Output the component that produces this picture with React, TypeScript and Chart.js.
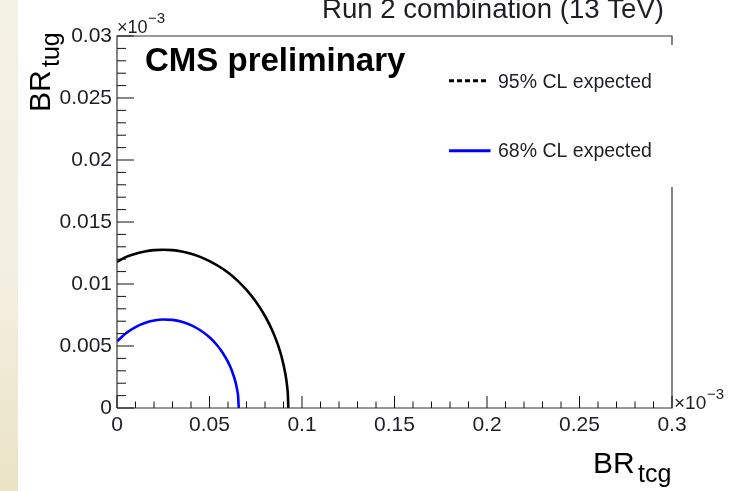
import React, { useEffect, useRef } from "react";
import { Chart, registerables } from "chart.js";

Chart.register(...registerables);

// Axis ticks (values in units of 10^-3)
const X_TICKS = [0, 0.05, 0.1, 0.15, 0.2, 0.25, 0.3];
const X_TICK_LABELS = ["0", "0.05", "0.1", "0.15", "0.2", "0.25", "0.3"];
const Y_TICKS = [0, 0.005, 0.01, 0.015, 0.02, 0.025, 0.03];
const Y_TICK_LABELS = ["0", "0.005", "0.01", "0.015", "0.02", "0.025", "0.03"];

// Expected 95% CL contour (BR_tcg, BR_tug), units of 10^-3
const CL95_X = [0, 0.005, 0.01, 0.015, 0.02, 0.025, 0.03, 0.035, 0.04, 0.045, 0.05, 0.055, 0.06, 0.065, 0.07, 0.075, 0.08, 0.084, 0.087, 0.089, 0.091, 0.092, 0.0924, 0.0926];
const CL95_Y = [0.01178, 0.01219, 0.01244, 0.01262, 0.01273, 0.01276, 0.01273, 0.01262, 0.01244, 0.01219, 0.01185, 0.01143, 0.01092, 0.01029, 0.00952, 0.00859, 0.00742, 0.00623, 0.00509, 0.00411, 0.00276, 0.00171, 0.00098, 0];

// Expected 68% CL contour
const CL68_X = [0, 0.005, 0.01, 0.015, 0.02, 0.025, 0.03, 0.035, 0.04, 0.045, 0.05, 0.054, 0.057, 0.06, 0.062, 0.064, 0.065, 0.0655, 0.0658];
const CL68_Y = [0.00538, 0.00605, 0.00653, 0.00686, 0.00706, 0.00714, 0.00711, 0.00696, 0.00668, 0.00627, 0.0057, 0.00508, 0.00448, 0.00372, 0.00305, 0.00213, 0.00143, 0.0009, 0];

const SERIES_LABELS = ["95% CL expected", "68% CL expected"];
const SERIES_COLORS = ["#000000", "#0000ff"];

const FONT = "'Liberation Sans', Arial, Helvetica, sans-serif";
const TEXT = "#1e1e26";

const toPoints = (xs: number[], ys: number[]) => xs.map((x, i) => ({ x, y: ys[i] }));

const decorations = {
  id: "rootStyleFrame",
  afterDraw(chart: Chart) {
    const { ctx, chartArea: a } = chart;
    const xs = chart.scales.x;
    const ys = chart.scales.y;
    ctx.save();

    // frame (right edge partly hidden behind the legend box)
    ctx.strokeStyle = "#333";
    ctx.lineWidth = 1.2;
    ctx.beginPath();
    ctx.moveTo(a.left, a.bottom);
    ctx.lineTo(a.left, a.top);
    ctx.lineTo(a.right, a.top);
    ctx.lineTo(a.right, 45);
    ctx.moveTo(a.right, 187);
    ctx.lineTo(a.right, a.bottom);
    ctx.lineTo(a.left, a.bottom);
    ctx.stroke();

    // tick marks, drawn inside the frame
    ctx.strokeStyle = "#111";
    ctx.lineWidth = 1;
    ctx.beginPath();
    for (let i = 0; i <= 30; i++) {
      const py = ys.getPixelForValue(i * 0.001);
      const len = i % 5 === 0 ? 17 : 9;
      ctx.moveTo(a.left, py);
      ctx.lineTo(a.left + len, py);
    }
    for (let i = 0; i <= 30; i++) {
      const px = xs.getPixelForValue(i * 0.01);
      const len = i % 5 === 0 ? 12 : 6.5;
      ctx.moveTo(px, a.bottom);
      ctx.lineTo(px, a.bottom - len);
    }
    ctx.stroke();

    ctx.fillStyle = TEXT;
    ctx.textBaseline = "alphabetic";
    ctx.textAlign = "left";

    // axis multipliers
    ctx.font = `18px ${FONT}`;
    ctx.fillText("\u00d710", a.left, 32.5);
    ctx.font = `15px ${FONT}`;
    ctx.fillText("\u22123", a.left + 31, 23);
    ctx.font = `19px ${FONT}`;
    ctx.fillText("\u00d710", a.right + 2, 408.5);
    ctx.font = `15px ${FONT}`;
    ctx.fillText("\u22123", a.right + 35, 399);

    // header
    ctx.font = `27.6px ${FONT}`;
    ctx.textAlign = "right";
    ctx.fillText("Run 2 combination (13 TeV)", 664, 18);
    ctx.textAlign = "left";

    ctx.fillStyle = "#000";
    ctx.font = `bold 33px ${FONT}`;
    ctx.fillText("CMS preliminary", 145, 70.5);

    // axis titles
    ctx.font = `30px ${FONT}`;
    ctx.fillText("BR", 593, 472.5);
    ctx.font = `25px ${FONT}`;
    ctx.fillText("tcg", 638, 482);

    ctx.save();
    ctx.translate(49.5, 112);
    ctx.rotate(-Math.PI / 2);
    ctx.font = `30px ${FONT}`;
    ctx.fillText("BR", 0, 0);
    ctx.font = `25px ${FONT}`;
    ctx.fillText("tug", 45, 9);
    ctx.restore();

    // legend
    ctx.lineWidth = 3;
    ctx.strokeStyle = SERIES_COLORS[0];
    ctx.setLineDash([5, 3]);
    ctx.beginPath();
    ctx.moveTo(449, 80.7);
    ctx.lineTo(486.5, 80.7);
    ctx.stroke();
    ctx.setLineDash([]);
    ctx.strokeStyle = SERIES_COLORS[1];
    ctx.beginPath();
    ctx.moveTo(449, 150.7);
    ctx.lineTo(490.5, 150.7);
    ctx.stroke();

    ctx.fillStyle = TEXT;
    ctx.font = `19.5px ${FONT}`;
    ctx.fillText(SERIES_LABELS[0], 498, 87.5);
    ctx.fillText(SERIES_LABELS[1], 498, 156.8);

    ctx.restore();
  },
};

export default function App() {
  const canvasRef = useRef<HTMLCanvasElement | null>(null);

  useEffect(() => {
    document.body.style.margin = "0";
    const canvas = canvasRef.current;
    if (!canvas) return;

    const chart = new Chart(canvas, {
      type: "scatter",
      data: {
        datasets: [
          {
            label: SERIES_LABELS[0],
            data: toPoints(CL95_X, CL95_Y),
            showLine: true,
            borderColor: SERIES_COLORS[0],
            borderWidth: 2.6,
            pointRadius: 0,
            cubicInterpolationMode: "monotone",
          },
          {
            label: SERIES_LABELS[1],
            data: toPoints(CL68_X, CL68_Y),
            showLine: true,
            borderColor: SERIES_COLORS[1],
            borderWidth: 2.6,
            pointRadius: 0,
            cubicInterpolationMode: "monotone",
          },
        ],
      },
      options: {
        responsive: false,
        animation: false,
        devicePixelRatio: 1,
        layout: { padding: { left: 0, top: 36, right: 58, bottom: 0 } },
        plugins: {
          legend: { display: false },
          tooltip: { enabled: false },
          title: { display: false },
        },
        scales: {
          x: {
            type: "linear",
            min: 0,
            max: 0.3,
            grid: { display: false, drawTicks: false },
            border: { display: false },
            afterBuildTicks: (s: any) => {
              s.ticks = X_TICKS.map((v) => ({ value: v }));
            },
            afterFit: (s: any) => {
              s.height = 83;
            },
            ticks: {
              autoSkip: false,
              maxRotation: 0,
              padding: 5,
              color: TEXT,
              font: { family: FONT, size: 21 },
              callback: (_v: any, i: number) => X_TICK_LABELS[i],
            },
          },
          y: {
            type: "linear",
            min: 0,
            max: 0.03,
            grid: { display: false, drawTicks: false },
            border: { display: false },
            afterBuildTicks: (s: any) => {
              s.ticks = Y_TICKS.map((v) => ({ value: v }));
            },
            afterFit: (s: any) => {
              s.width = 117;
            },
            ticks: {
              autoSkip: false,
              padding: 5,
              color: TEXT,
              font: { family: FONT, size: 21 },
              callback: (_v: any, i: number) => Y_TICK_LABELS[i],
            },
          },
        },
      },
      plugins: [decorations],
    });

    return () => chart.destroy();
  }, []);

  return (
    <div style={{ position: "absolute", left: 0, top: 0, width: 730, height: 491, background: "#ffffff", overflow: "hidden" }}>
      <div
        style={{
          position: "absolute",
          left: 0,
          top: 0,
          width: 18,
          height: 491,
          background: "linear-gradient(to bottom, #f4f1e5 0%, #f3efe1 55%, #ebe3c6 100%)",
        }}
      />
      <canvas ref={canvasRef} width={730} height={491} style={{ position: "absolute", left: 0, top: 0, width: 730, height: 491 }} />
    </div>
  );
}
